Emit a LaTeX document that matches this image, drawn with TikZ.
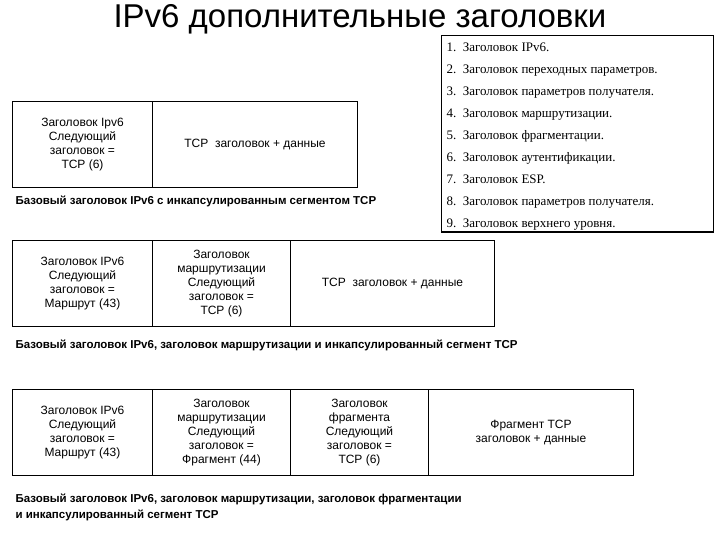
\documentclass[tikz,border=0pt]{standalone}
\usepackage{fontspec}
\setmainfont{Liberation Sans}
\newfontfamily\serifl{Liberation Serif}
\begin{document}
\begin{tikzpicture}[x=1pt,y=-1pt,
  cell/.style={draw,line width=1pt,minimum height=86pt,anchor=north west,inner sep=0pt,align=center,font=\fontsize{12}{14}\selectfont},
  captext/.style={anchor=west,font=\bfseries\fontsize{11.5}{16}\selectfont,align=left},
  li/.style={anchor=base west,font=\serifl\fontsize{13}{14}\selectfont}]
\useasboundingbox (0,0) rectangle (720,540);
\node (title) at (360,19) {\fontsize{33}{34}\selectfont IPv6 дополнительные заголовки};
\draw[line width=1pt] (441,36) rectangle (713,232);
\foreach \t [count=\i] in {Заголовок IPv6.,Заголовок переходных параметров.,Заголовок параметров получателя.,Заголовок маршрутизации.,Заголовок фрагментации.,Заголовок аутентификации.,Заголовок ESP.,Заголовок параметров получателя.,Заголовок верхнего уровня.}
  \node[li] (l\i) at (443,{52+(\i-1)*22}) {\i.\ \ \t};
% row 1
\node[cell,minimum width=140pt] (a1) at (12,101) {Заголовок Ipv6\\Следующий\\заголовок =\\TCP (6)};
\node[cell,minimum width=205pt] (a2) at (152,101) {TCP\ \ заголовок + данные};
\node[captext] (c1) at (12,201) {Базовый заголовок IPv6 с инкапсулированным сегментом TCP};
% row 2
\node[cell,minimum width=140pt] (b1) at (12,240) {Заголовок IPv6\\Следующий\\заголовок =\\Маршрут (43)};
\node[cell,minimum width=138pt] (b2) at (152,240) {Заголовок\\маршрутизации\\Следующий\\заголовок =\\TCP (6)};
\node[cell,minimum width=204pt] (b3) at (290,240) {TCP\ \ заголовок + данные};
\node[captext] (c2) at (12,345) {Базовый заголовок IPv6, заголовок маршрутизации и инкапсулированный сегмент TCP};
% row 3
\node[cell,minimum width=140pt] (d1) at (12,389) {Заголовок IPv6\\Следующий\\заголовок =\\Маршрут (43)};
\node[cell,minimum width=138pt] (d2) at (152,389) {Заголовок\\маршрутизации\\Следующий\\заголовок =\\Фрагмент (44)};
\node[cell,minimum width=138pt] (d3) at (290,389) {Заголовок\\фрагмента\\Следующий\\заголовок =\\TCP (6)};
\node[cell,minimum width=205pt] (d4) at (428,389) {Фрагмент TCP\\заголовок + данные};
\node[captext] (c3) at (12,507) {Базовый заголовок IPv6, заголовок маршрутизации, заголовок фрагментации\\и инкапсулированный сегмент TCP};
\end{tikzpicture}
\end{document}
